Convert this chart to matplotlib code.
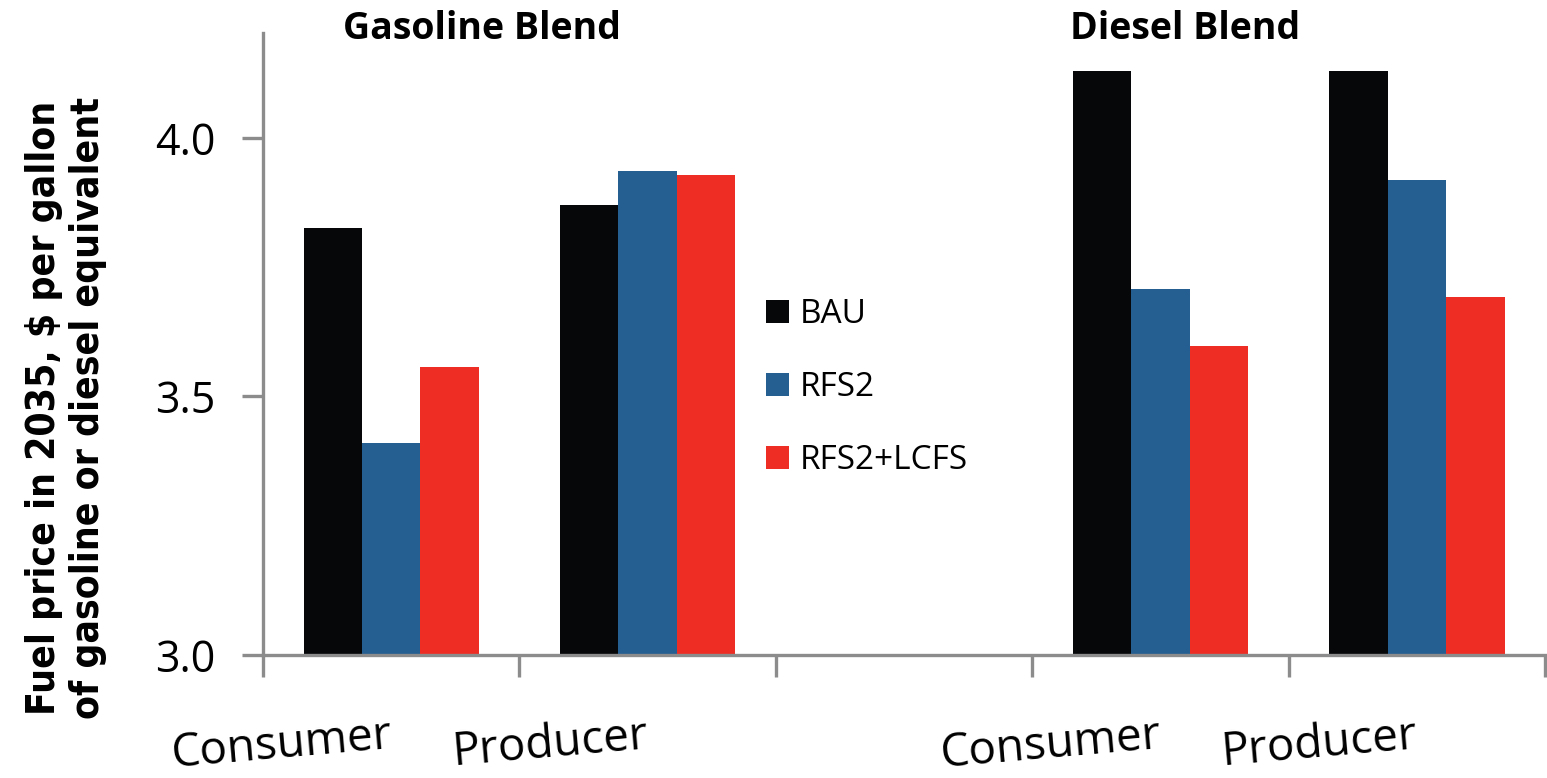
import matplotlib
matplotlib.use("Agg")
import matplotlib.pyplot as plt
import numpy as np
from matplotlib.patches import Patch

categories = ["Consumer", "Producer", "", "Consumer", "Producer"]
series_names = ["BAU", "RFS2", "RFS2+LCFS"]
bau = [3.826, 3.870, np.nan, 4.130, 4.130]
rfs2 = [3.410, 3.936, np.nan, 3.708, 3.919]
rfs2_lcfs = [3.557, 3.928, np.nan, 3.598, 3.692]
colors = ["#050708", "#255E91", "#EE2D24"]
group_titles = ["Gasoline Blend", "Diesel Blend"]
yticks = [3.0, 3.5, 4.0]

fig = plt.figure(figsize=(15.47, 7.78), dpi=100)
ax = fig.add_axes([263/1547, 1-655/778, 1-263/1547 - 0.001, (655-33)/778])

x = np.arange(len(categories))
w = 0.228
for i, (vals, c) in enumerate(zip([bau, rfs2, rfs2_lcfs], colors)):
    v = np.array(vals, dtype=float)
    ax.bar(x + (i-1)*w, v - 3.0, width=w, bottom=3.0, color=c, linewidth=0)

ax.set_xlim(-0.5, len(categories)-0.5)
ax.set_ylim(3.0, 4.203)
ax.set_yticks(yticks)
ax.set_yticklabels([f"{t:.1f}" for t in yticks], fontsize=31, family="Open Sans")
ax.tick_params(axis="y", length=15, width=2.4, color="#8c8c8c", pad=19)

ax.set_xticks(x)
ax.set_xticklabels(categories, fontsize=33, family="Open Sans",
                   rotation=5, ha="right", va="center", rotation_mode="anchor")
ax.tick_params(axis="x", which="major", length=0, pad=58)
ax.set_xticks(np.arange(-0.5, len(categories)), minor=True)
ax.tick_params(axis="x", which="minor", length=16, width=2.4, color="#8c8c8c")

for s in ["top", "right"]:
    ax.spines[s].set_visible(False)
for s in ["left", "bottom"]:
    ax.spines[s].set_color("#8c8c8c")
    ax.spines[s].set_linewidth(2.4)

fig.text(482/1547, 1-29/778, group_titles[0], fontsize=27, fontweight="bold",
         family="Open Sans", ha="center", va="center")
fig.text(1185/1547, 1-29/778, group_titles[1], fontsize=27, fontweight="bold",
         family="Open Sans", ha="center", va="center")

fig.text(66/1547, 1-408/778, "Fuel price in 2035, $ per gallon\nof gasoline or diesel equivalent",
         rotation=90, fontsize=28, fontweight="bold", family="DejaVu Sans",
         fontstretch="condensed", ha="center", va="center",
         multialignment="center", linespacing=1.2)

handles = [Patch(facecolor=c, edgecolor="none") for c in colors]
fig.legend(handles, series_names, loc="upper left", bbox_to_anchor=(736/1547, 1-268/778),
           frameon=False, prop={"family": "Open Sans", "size": 24},
           handlelength=0.7, handleheight=0.7, handletextpad=0.3, labelspacing=1.2)

fig.savefig("out.png", dpi=100)
